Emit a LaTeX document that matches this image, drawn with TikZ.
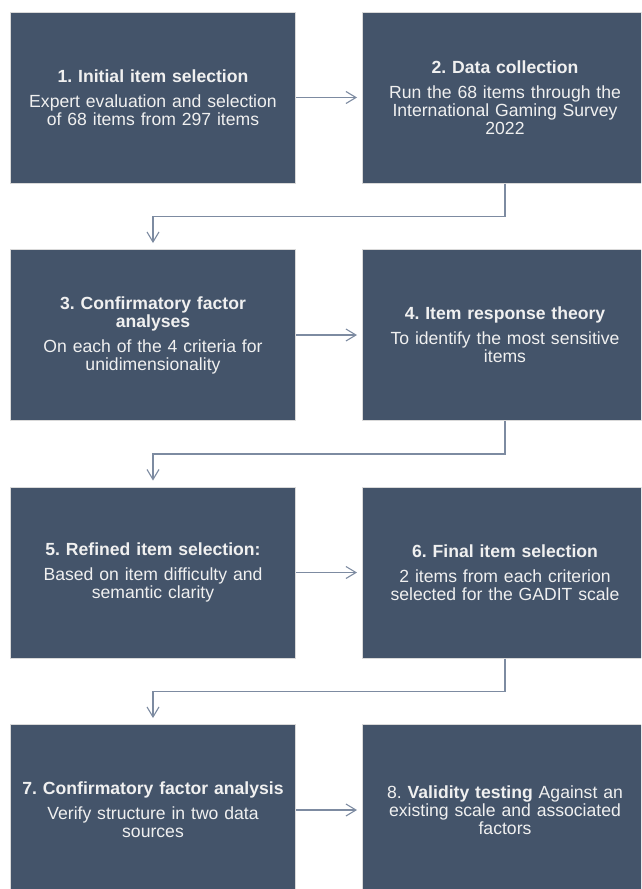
\documentclass[tikz,border=0pt]{standalone}
\usepackage{fontspec}
\setmainfont{Liberation Sans}
\usetikzlibrary{arrows.meta}
\definecolor{boxfill}{HTML}{44546A}
\definecolor{boxline}{HTML}{D9D9D9}
\definecolor{connc}{HTML}{7D8BA1}
\definecolor{boxtext}{HTML}{F0F0F0}
\frenchspacing
\begin{document}
\begin{tikzpicture}[x=1pt,y=-1pt,
  stepbox/.style={draw=boxline, line width=1pt, fill=boxfill, text=boxtext,
    minimum width=285pt, minimum height=171pt, inner sep=0pt,
    text width=272pt, align=center, font=\fontsize{17.6}{18}\selectfont\frenchspacing},
  conn/.style={draw=connc, line width=1.1pt, -{Straight Barb[length=10pt,width=12pt]}}]
\useasboundingbox (0,0) rectangle (641,889);
\clip (0,0) rectangle (641,889);
\node[stepbox] (s1) at (153,97.5) {\textbf{1. Initial item selection}\\[7pt]Expert evaluation and selection\\of 68 items from 297 items};
\node[stepbox] (s2) at (505,97.5) {\textbf{2. Data collection}\\[7pt]Run the 68 items through the\\International Gaming Survey\\2022};
\node[stepbox] (s3) at (153,335) {\textbf{3. Confirmatory factor}\\\textbf{analyses}\\[7pt]On each of the 4 criteria for\\unidimensionality};
\node[stepbox] (s4) at (505,335) {\textbf{4. Item response theory}\\[7pt]To identify the most sensitive\\items};
\node[stepbox] (s5) at (153,572.5) {\textbf{5. Refined item selection:}\\[7pt]Based on item difficulty and\\semantic clarity};
\node[stepbox] (s6) at (505,572.5) {\textbf{6. Final item selection}\\[7pt]2 items from each criterion\\selected for the GADIT scale};
\node[stepbox] (s7) at (153,810) {\textbf{7. Confirmatory factor analysis}\\[7pt]Verify structure in two data\\sources};
\node[stepbox] (s8) at (505,810) {8. \textbf{Validity testing} Against an\\existing scale and associated\\factors};
\draw[conn, shorten >=5pt] (s1.east) -- (s2.west);
\draw[conn, shorten >=5pt] (s3.east) -- (s4.west);
\draw[conn, shorten >=5pt] (s5.east) -- (s6.west);
\draw[conn, shorten >=5pt] (s7.east) -- (s8.west);
\draw[conn, shorten >=6pt] (s2.south) -- ++(0,33) -| (s3.north);
\draw[conn, shorten >=6pt] (s4.south) -- ++(0,33) -| (s5.north);
\draw[conn, shorten >=6pt] (s6.south) -- ++(0,33) -| (s7.north);
\end{tikzpicture}
\end{document}
